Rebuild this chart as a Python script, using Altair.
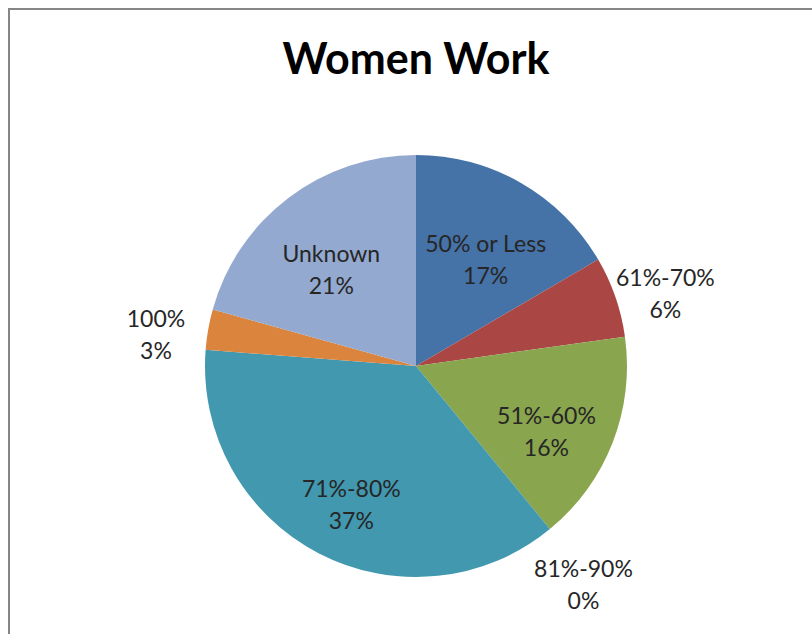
import math
import altair as alt
import pandas as pd

# ---- data ----
categories = ["50% or Less", "61%-70%", "51%-60%", "81%-90%", "71%-80%", "100%", "Unknown"]
shares = [16.6, 6.2, 16.3, 0.0, 37.2, 3.1, 20.7]
colors = ["#4572A7", "#AA4643", "#89A54E", "#71588F", "#4198AF", "#DB843D", "#93A9CF"]
outside_labels = ["61%-70%", "81%-90%", "100%"]
title_text = ["Women Work"]

df = pd.DataFrame({"category": categories, "share": shares, "order": list(range(len(categories)))})

CX, CY, R = 416, 366, 211
theta_scale = alt.Scale(domain=[0, 1], range=[0, 2 * math.pi])

base = (
    alt.Chart(df)
    .transform_joinaggregate(total="sum(share)")
    .transform_window(cum="sum(share)", sort=[alt.SortField("order")], frame=[None, 0])
    .transform_calculate(
        start="(datum.cum - datum.share) / datum.total",
        end="datum.cum / datum.total",
        mid="(datum.cum - datum.share / 2) / datum.total",
        label="[datum.category, format(datum.share, '.0f') + '%']",
    )
)

frame = (
    alt.Chart(pd.DataFrame({"t": title_text}))
    .mark_rect(fill="white", stroke="#868686", strokeWidth=2)
    .encode(x=alt.value(9), y=alt.value(9), x2=alt.value(900), y2=alt.value(900))
)

arcs = base.mark_arc(outerRadius=R).encode(
    theta=alt.Theta("start:Q", scale=theta_scale),
    theta2="end:Q",
    color=alt.Color("category:N", scale=alt.Scale(domain=categories, range=colors), legend=None),
    x=alt.value(CX),
    y=alt.value(CY),
)

text_style = dict(font="Lato", fontSize=23, lineHeight=32, color="#262626", baseline="middle", align="center")

inside = (
    base.transform_filter(~alt.FieldOneOfPredicate(field="category", oneOf=outside_labels))
    .mark_text(radius=140, **text_style)
    .encode(theta=alt.Theta("mid:Q", scale=theta_scale), text="label:N", x=alt.value(CX), y=alt.value(CY))
)

outside = (
    base.transform_filter(alt.FieldOneOfPredicate(field="category", oneOf=outside_labels))
    .mark_text(radius=264, **text_style)
    .encode(theta=alt.Theta("mid:Q", scale=theta_scale), text="label:N", x=alt.value(CX), y=alt.value(CY))
)

title = (
    alt.Chart(pd.DataFrame({"t": title_text}))
    .mark_text(font="Lato", fontSize=43, fontWeight="bold", color="#000000", baseline="middle", align="center")
    .encode(text="t:N", x=alt.value(CX), y=alt.value(61))
)

chart = (
    alt.layer(frame, arcs, inside, outside, title)
    .properties(width=812, height=634, autosize=alt.AutoSizeParams(type="none"), padding=0, background="white")
    .configure_view(strokeWidth=0)
)

chart.save("out.html", embed_options={"renderer": "svg", "actions": False})
